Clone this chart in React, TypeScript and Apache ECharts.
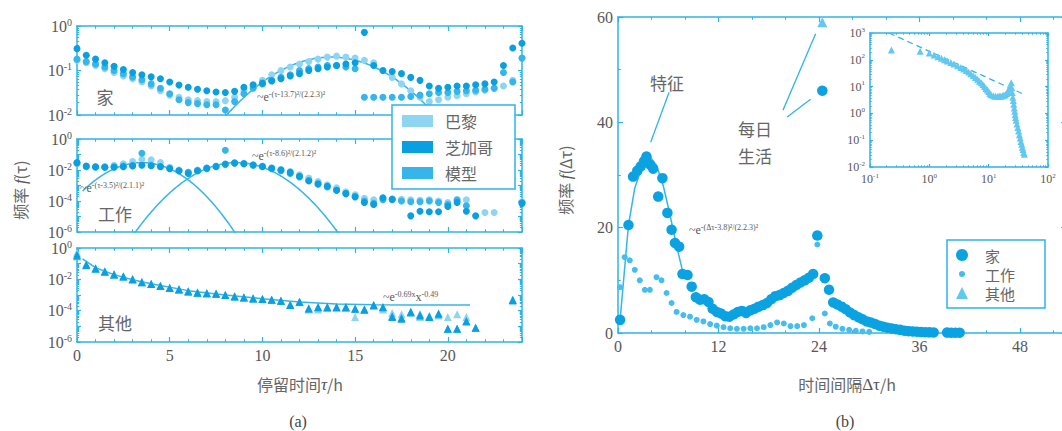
import React, { useEffect, useRef } from "react";
import * as echarts from "echarts";

// ---------- data ----------
// half-hour sampling grid of the dwell-time distributions (0 … 24 h)
const HOURS: number[] = Array.from({ length: 49 }, (_, i) => i * 0.5);

// 家 (home) dwell time
const homeParis = [0.17, 0.15, 0.13, 0.11, 0.09, 0.075, 0.065, 0.055, 0.045, 0.035, 0.028, 0.025, 0.022, 0.021, 0.02, 0.02, 0.021, 0.025, 0.035, 0.045, 0.06, 0.08, 0.1, 0.12, 0.14, 0.16, 0.18, 0.2, 0.21, 0.2, 0.19, 0.17, 0.15, 0.1, 0.07, 0.05, 0.035, 0.025, 0.02, 0.022, 0.025, 0.027, 0.03, 0.033, 0.036, 0.04, 0.045, 0.06, 0.19];
const homeChicago = [0.31, 0.22, 0.18, 0.15, 0.125, 0.105, 0.09, 0.08, 0.072, 0.065, 0.055, 0.047, 0.042, 0.038, 0.035, 0.033, 0.032, 0.034, 0.042, 0.048, 0.052, 0.058, 0.065, 0.075, 0.085, 0.1, 0.11, 0.12, 0.13, 0.14, 0.15, 0.72, 0.13, 0.1, 0.095, 0.085, 0.07, 0.06, 0.045, 0.04, 0.042, 0.045, 0.045, 0.048, 0.05, 0.055, 0.13, 0.32, 0.41];
const homeModel = [0.18, 0.16, 0.14, 0.12, 0.1, 0.085, 0.072, 0.062, 0.05, 0.04, 0.03, 0.022, 0.019, 0.018, 0.017, 0.017, 0.013, 0.02, 0.03, 0.04, 0.05, 0.06, 0.07, 0.08, 0.1, 0.11, 0.12, 0.13, 0.13, 0.12, 0.11, 0.025, 0.025, 0.025, 0.025, 0.025, 0.026, 0.028, 0.03, 0.032, 0.032, 0.034, 0.035, 0.036, 0.038, 0.04, 0.09, 0.055, 0.19];

// 工作 (work) dwell time
const workParis = [0.025, 0.017, 0.016, 0.017, 0.02, 0.025, 0.035, 0.05, 0.045, 0.03, 0.015, 0.01, 0.007, 0.01, 0.014, 0.018, 0.022, 0.03, 0.027, 0.022, 0.018, 0.014, 0.011, 0.008, 0.005, 0.003, 0.0018, 0.0011, 0.0007, 0.0004, 0.00025, 0.00015, 0.00012, 0.00015, 0.00014, 0.00013, 0.00012, 0.00011, 0.00012, 0.0001, 0.00008, 0.00013, 0.00012, null, 0.000018, 0.000018, null, null, 0.00009];
const workChicago = [0.03, 0.018, 0.016, 0.015, 0.015, 0.016, 0.018, 0.02, 0.019, 0.016, 0.012, 0.009, 0.006, 0.009, 0.013, 0.017, 0.024, 0.028, 0.025, 0.021, 0.017, 0.013, 0.01, 0.007, 0.004, 0.002, 0.0013, 0.0009, 0.0005, 0.0003, 0.00018, 0.00008, 0.00006, 0.00016, 0.00013, null, 0.000011, 0.000022, 0.00002, 0.00002, 0.000045, 0.00008, 0.000022, 0.000011, null, null, null, null, 0.00007];
const workModel = [0.028, 0.016, 0.015, 0.015, 0.016, 0.018, 0.02, 0.12, 0.02, 0.017, 0.013, 0.009, 0.007, 0.009, 0.012, 0.016, 0.19, 0.027, 0.025, 0.02, 0.016, 0.012, 0.009, 0.006, 0.0035, 0.002, 0.0012, 0.0008, 0.0005, 0.0003, 0.0002, 0.0001, 0.00007, 0.00012, 0.00012, 0.0001, 0.00009, 0.00009, 0.0001, 0.00008, 0.00006, 0.00011, 0.00005, null, null, null, null, null, 0.00008];

// 其他 (other) dwell time
const otherParis = [0.5, 0.09, 0.052, 0.033, 0.021, 0.016, 0.011, 0.007, 0.0052, 0.004, 0.003, 0.0024, 0.0018, 0.0015, 0.0013, 0.0012, 0.001, 0.00085, 0.00072, 0.00062, 0.00056, 0.0005, 0.00045, 0.00025, 0.00035, 0.00012, 0.00012, 0.00015, 0.00016, 0.00015, 0.00004, 0.00011, 0.0002, 0.00012, 0.00007, 0.00006, 0.00007, 0.00004, 0.00004, 0.00005, 0.00004, 0.00006, 0.00004, null, null, null, null, 0.0004, null];
const otherChicago = [0.37, 0.085, 0.05, 0.032, 0.02, 0.015, 0.01, 0.0065, 0.005, 0.0038, 0.0028, 0.0023, 0.0017, 0.0014, 0.0013, 0.0012, 0.001, 0.0008, 0.0007, 0.0006, 0.00055, 0.0005, 0.00043, 0.00023, 0.00037, 0.00014, 0.00017, 0.00017, 0.00017, 0.00017, 0.00014, 0.00012, 0.00023, 0.00017, 0.00004, 0.00003, 0.000086, 0.00005, 0.00004, 0.000066, 0.000007, 0.000007, 0.00002, 0.000008, null, null, null, 0.00048, null];
const otherModel = [0.3, 0.08, 0.048, 0.031, 0.02, 0.015, 0.0098, 0.0064, 0.005, 0.0037, 0.0028, 0.0022, 0.0017, 0.0014, 0.0013, 0.0012, 0.001, 0.0008, 0.0007, 0.0006, 0.00055, 0.0005, 0.00042, 0.00024, 0.00036, 0.00014, 0.00016, 0.00016, 0.00016, 0.00016, 0.00013, 0.00012, 0.00022, 0.00016, 0.000045, 0.000035, 0.00008, 0.00006, 0.000045, 0.00006, 0.000007, 0.000007, 0.000022, 0.000008, null, null, null, 0.0005, null];

// Gaussian fits quoted on the panels: centre, width, peak height
const HOME_FIT = { mu: 13.7, sigma: 2.3, peak: 0.2, from: 7, to: 19.5 };
const WORK_FIT_A = { mu: 3.5, sigma: 1.1, peak: 0.03, from: 0.3, to: 9 };
const WORK_FIT_B = { mu: 8.6, sigma: 1.2, peak: 0.03, from: 2.5, to: 14.5 };
// power-law-like fit through the 其他 points
const otherFit: [number, number][] = [[0.3, 0.2], [1, 0.055], [2, 0.02], [3, 0.0095], [4, 0.0052], [6, 0.0019], [8, 0.001], [10, 0.00058], [12, 0.00036], [14, 0.00027], [16, 0.00024], [18, 0.00023], [21.2, 0.00023]];

// inter-event time Δτ (h) vs frequency
const homeInterval: [number, number][] = [[0.25, 2.5], [1.25, 20.5], [1.8, 29.7], [2.3, 30.8], [2.7, 31.6], [3.1, 32.6], [3.4, 33.5], [3.8, 32], [4.2, 31.2], [4.8, 25.9], [5.3, 29.4], [5.9, 22.8], [6.4, 19.6], [6.8, 17.1], [7.3, 16.4], [7.7, 11.2], [8.3, 11], [8.8, 8.8], [9.3, 6.8], [9.8, 6.3], [10.3, 6.4], [10.8, 5.9], [11.3, 4.6], [11.8, 4.0], [12.3, 3.7], [12.8, 3.2], [13.3, 3.1], [13.8, 3.5], [14.3, 4.0], [14.8, 4.2], [15.3, 3.8], [15.8, 4.3], [16.3, 4.6], [16.8, 5.0], [17.3, 5.3], [17.8, 5.7], [18.3, 6.4], [18.8, 7.0], [19.3, 7.2], [19.8, 7.6], [20.3, 8.0], [20.8, 8.6], [21.3, 9.1], [21.8, 9.6], [22.3, 10.0], [22.8, 10.5], [23.3, 11.2], [23.8, 18.5], [24.4, 46], [24.7, 10.4], [25.2, 8.2], [25.7, 5.8], [26.2, 5.4], [26.7, 5.0], [27.2, 4.5], [27.7, 3.9], [28.2, 3.4], [28.7, 3.0], [29.2, 2.6], [29.7, 2.2], [30.2, 2.0], [30.7, 1.7], [31.2, 1.4], [31.7, 1.2], [32.2, 1.0], [32.7, 0.85], [33.2, 0.7], [33.7, 0.6], [34.2, 0.45], [34.7, 0.35], [35.2, 0.3], [35.7, 0.25], [36.2, 0.2], [36.7, 0.15], [37.2, 0.12], [37.7, 0.1], [39.3, 0.08], [39.8, 0.06], [40.3, 0.05], [40.8, 0.05]];
const workInterval: [number, number][] = [[0.25, 8.7], [0.8, 14.4], [1.4, 13.8], [2.0, 12], [2.6, 10], [3.2, 8.2], [3.8, 8.2], [4.6, 10.6], [5.2, 10], [5.8, 7.6], [6.4, 5.7], [7.0, 4.0], [7.8, 3.4], [8.6, 3.1], [9.4, 2.5], [10.2, 2.2], [11, 1.7], [11.8, 1.4], [12.6, 1.1], [13.4, 0.9], [14.2, 0.8], [15, 0.8], [15.8, 0.9], [16.6, 0.9], [17.4, 1.1], [18.2, 1.5], [19, 2.0], [19.8, 1.8], [20.6, 1.3], [21.4, 1.3], [22.2, 1.5], [23.2, 2.8], [23.8, 16.8], [24.7, 3.7], [25.3, 1.8], [26, 1.2], [26.8, 0.8], [27.6, 0.6], [28.4, 0.4], [29.2, 0.3], [30, 0.2]];
const otherInterval: [number, number][] = [[24.4, 59]];
// fitted peak around Δτ = 3.8 h
const intervalFit: [number, number][] = [[0.25, 2.5], [1.25, 20.5], [2, 27.5], [3, 32.2], [3.8, 33.5], [4.6, 31.8], [5.4, 28], [6.2, 22.5], [7, 16.5], [7.6, 12.5], [8, 10.5]];

// inset: 其他 on log–log axes and its power-law guide
const otherLogLog: [number, number][] = [[0.23, 230], [0.7, 210], [1.0, 180], [1.2, 150], [1.4, 130], [1.6, 115], [1.8, 100], [2, 90], [2.3, 80], [2.6, 70], [3, 60], [3.4, 52], [3.8, 45], [4.2, 40], [4.6, 35], [5, 30], [5.5, 26], [6, 22], [6.5, 19], [7, 16], [7.5, 14], [8, 12], [8.5, 10], [9, 8.5], [9.5, 7.5], [10, 6.5], [10.5, 5.5], [11, 5], [12, 4.6], [13, 4.4], [14, 4.3], [15, 4.5], [16, 4.4], [17, 4.6], [18, 4.8], [19, 5], [20, 5.5], [21, 6.5], [22, 8], [23, 10], [24, 14], [24.5, 9], [25, 6], [25.5, 4], [26, 3], [26.5, 2.2], [27, 1.6], [27.5, 1.2], [28, 0.9], [28.5, 0.7], [29, 0.55], [30, 0.4], [31, 0.3], [32, 0.22], [33, 0.16], [34, 0.12], [35, 0.09], [36, 0.07], [37, 0.055], [38, 0.045], [39, 0.035], [40, 0.03]];
const powerGuide: [number, number][] = [[0.21, 1000], [41, 4.9]];

// ---------- styling ----------
const AXIS = "#2fb3e7";
const PARIS = "#8ed4f3";
const CHICAGO = "#0a9fe0";
const MODEL = "#35b5ea";
const HOME_C = "#0ba2e2";
const WORK_C = "#45bdee";
const OTHER_C = "#63c8f0";
const TXT = "#575757";
const SERIF = "'Liberation Serif','DejaVu Serif',serif";
const CJK = "'Noto Sans CJK SC','Noto Sans',sans-serif";
// small dot icon: the two leading move-to points pad the bounding box so the dot renders smaller
const SMALL_DOT = "path://M-8,-8M8,8M-4,0A4,4,0,1,1,4,0A4,4,0,1,1,-4,0Z";

const supRich = (size: number) => ({
  b: { fontFamily: SERIF, fontSize: size, color: TXT, lineHeight: size + 2 },
  s: { fontFamily: SERIF, fontSize: Math.round(size * 0.62), color: TXT, verticalAlign: "top", lineHeight: Math.round(size * 0.62) },
});
const decadeLabel = (every: number) => (v: number) => {
  const e = Math.round(Math.log10(v));
  return e % every === 0 ? `{b|10}{s|${e}}` : "";
};

type AxisOpt = {
  grid: number; pos: string; type: "value" | "log"; min: number; max: number;
  interval?: number; split?: number; minor: number; labels: boolean;
  formatter?: any; rich?: any; fontSize?: number; tick?: number; hideMax?: boolean;
};
function axis(o: AxisOpt) {
  const a: any = {
    type: o.type, gridIndex: o.grid, position: o.pos, min: o.min, max: o.max,
    axisLine: { show: true, onZero: false, lineStyle: { color: AXIS, width: 1.5 } },
    axisTick: { show: true, inside: true, length: o.tick ?? 5, lineStyle: { color: AXIS, width: 1.2 } },
    minorTick: { show: o.minor > 0, splitNumber: o.minor || 2, length: (o.tick ?? 5) * 0.55, lineStyle: { color: AXIS, width: 1 } },
    splitLine: { show: false },
    minorSplitLine: { show: false },
    axisLabel: {
      show: o.labels, color: TXT, fontFamily: SERIF, fontSize: o.fontSize ?? 16, margin: 5,
      formatter: o.formatter, rich: o.rich, showMaxLabel: !o.hideMax,
    },
  };
  if (o.type === "log") { a.logBase = 10; a.splitNumber = o.split; } else { a.interval = o.interval; }
  return a;
}

const pts = (vals: (number | null)[]) =>
  HOURS.map((h, i) => (vals[i] == null ? null : [h, vals[i]])).filter((p) => p !== null);

function gaussCurve(f: { mu: number; sigma: number; peak: number; from: number; to: number }) {
  const out: [number, number][] = [];
  for (let x = f.from; x <= f.to + 1e-9; x += 0.05) {
    out.push([x, f.peak * Math.exp(-((x - f.mu) ** 2) / (2 * f.sigma * f.sigma))]);
  }
  return out;
}

function buildOption(): any {
  const g = (left: number, top: number, width: number, height: number) => ({ left, top, width, height, outerBoundsMode: "none", containLabel: false });
  const grid = [
    g(77, 26, 445, 89),
    g(77, 139, 445, 93),
    g(77, 248, 445, 94),
    g(618, 17, 448, 316),
    g(870, 33, 178, 134),
  ];

  const xAxis: any[] = [];
  const yAxis: any[] = [];
  const yRanges = [
    { min: 0.01, max: 1, split: 2, every: 1 },
    { min: 1e-6, max: 1, split: 6, every: 2 },
    { min: 1e-6, max: 1, split: 6, every: 2 },
  ];
  for (let k = 0; k < 3; k++) {
    xAxis.push(axis({ grid: k, pos: "bottom", type: "value", min: 0, max: 24, interval: 5, minor: 5, labels: k === 2, hideMax: true }));
    xAxis.push(axis({ grid: k, pos: "top", type: "value", min: 0, max: 24, interval: 5, minor: 5, labels: false }));
    const r = yRanges[k];
    yAxis.push(axis({ grid: k, pos: "left", type: "log", min: r.min, max: r.max, split: r.split, minor: 10, labels: true, formatter: decadeLabel(r.every), rich: supRich(16), tick: 4 }));
    yAxis.push(axis({ grid: k, pos: "right", type: "log", min: r.min, max: r.max, split: r.split, minor: 10, labels: false, tick: 4 }));
  }
  // main interval panel
  xAxis.push(axis({ grid: 3, pos: "bottom", type: "value", min: 0, max: 53.5, interval: 12, minor: 3, labels: true, hideMax: true }));
  xAxis.push(axis({ grid: 3, pos: "top", type: "value", min: 0, max: 53.5, interval: 12, minor: 3, labels: false }));
  yAxis.push(axis({ grid: 3, pos: "left", type: "value", min: 0, max: 60, interval: 20, minor: 2, labels: true }));
  yAxis.push(axis({ grid: 3, pos: "right", type: "value", min: 0, max: 60, interval: 20, minor: 2, labels: false }));
  // inset
  xAxis.push(axis({ grid: 4, pos: "bottom", type: "log", min: 0.1, max: 100, split: 3, minor: 10, labels: true, formatter: decadeLabel(1), rich: supRich(12), tick: 3 }));
  xAxis.push(axis({ grid: 4, pos: "top", type: "log", min: 0.1, max: 100, split: 3, minor: 10, labels: false, tick: 3 }));
  yAxis.push(axis({ grid: 4, pos: "left", type: "log", min: 0.01, max: 1000, split: 5, minor: 10, labels: true, formatter: decadeLabel(1), rich: supRich(12), tick: 3 }));
  yAxis.push(axis({ grid: 4, pos: "right", type: "log", min: 0.01, max: 1000, split: 5, minor: 10, labels: false, tick: 3 }));

  const scatter = (name: string, gi: number, data: any[], symbol: string, size: number, color: string, z = 3) => ({
    type: "scatter", name, xAxisIndex: gi * 2, yAxisIndex: gi * 2, symbol, symbolSize: size,
    itemStyle: { color, opacity: 1 }, data, z,
  });
  const fitLine = (gi: number, data: any[], dashed = false) => ({
    type: "line", name: "fit", xAxisIndex: gi * 2, yAxisIndex: gi * 2, data, showSymbol: false, symbol: "none",
    lineStyle: { color: MODEL, width: 1.5, type: dashed ? "dashed" : "solid" }, clip: true, z: 2, silent: true,
  });

  const panels = [
    { p: homeParis, c: homeChicago, m: homeModel, sym: "circle", size: 7 },
    { p: workParis, c: workChicago, m: workModel, sym: "circle", size: 7 },
    { p: otherParis, c: otherChicago, m: otherModel, sym: "triangle", size: 8 },
  ];
  const series: any[] = [];
  panels.forEach((pn, k) => {
    series.push(scatter("巴黎", k, pts(pn.p), pn.sym, pn.size, PARIS));
    series.push(scatter("模型", k, pts(pn.m), pn.sym, pn.size, MODEL));
    series.push(scatter("芝加哥", k, pts(pn.c), pn.sym, pn.size, CHICAGO, 4));
  });
  series.push(fitLine(0, gaussCurve(HOME_FIT)));
  series.push(fitLine(1, gaussCurve(WORK_FIT_A)));
  series.push(fitLine(1, gaussCurve(WORK_FIT_B)));
  series.push(fitLine(2, otherFit));

  // interval panel
  series.push(scatter("工作", 3, workInterval, "circle", 6, WORK_C));
  series.push(scatter("家", 3, homeInterval, "circle", 10.5, HOME_C, 4));
  series.push(scatter("其他", 3, otherInterval, "triangle", 10, OTHER_C, 4));
  series.push({
    ...fitLine(3, intervalFit),
    markLine: {
      silent: true, symbol: ["none", "arrow"], symbolSize: [0, 9], animation: false,
      lineStyle: { color: AXIS, width: 1.3, type: "solid" }, label: { show: false },
      data: [
        [{ coord: [6.1, 45.7] }, { coord: [3.9, 36.2] }],
        [{ coord: [19.7, 42.3] }, { coord: [23.6, 56.8] }],
        [{ coord: [20.2, 41.0] }, { coord: [23.0, 44.4] }],
      ],
    },
  });
  series.push(scatter("其他", 4, otherLogLog, "triangle", 7, OTHER_C));
  series.push({ ...fitLine(4, powerGuide, true), lineStyle: { color: MODEL, width: 1.3, type: [6, 4] } });

  const cjkText = (text: string, x: number, y: number, size = 17, rotation = 0, align = "center") => ({
    type: "text", x, y, rotation, silent: true, z: 10,
    style: { text, fill: "#666", fontFamily: CJK, fontSize: size, align, verticalAlign: "middle" },
  });
  const fitText = (x: number, y: number, sup: string) => ({
    type: "text", x, y, silent: true, z: 10,
    style: {
      text: `~e{s|${sup}}`, fill: TXT, fontFamily: SERIF, fontSize: 12, lineHeight: 14, align: "left", verticalAlign: "middle",
      rich: { s: { fontFamily: SERIF, fontSize: 8, lineHeight: 8, fill: TXT, color: TXT, verticalAlign: "top" } },
    },
  });
  const yName = (x: number, y: number, arg: string) => ({
    type: "text", x, y, rotation: Math.PI / 2, silent: true, z: 10,
    style: {
      text: `{c|频率 }{i|f}{c|(${arg})}`, align: "center", verticalAlign: "middle", fill: "#666",
      rich: {
        c: { fontFamily: CJK, fontSize: 16, fill: "#666", color: "#666" },
        i: { fontFamily: SERIF, fontSize: 17, fontStyle: "italic", fill: "#555", color: "#555" },
      },
    },
  });

  const graphic = [
    cjkText("家", 105, 96),
    cjkText("工作", 115, 213),
    cjkText("其他", 115, 322),
    fitText(257, 97, "-(τ-13.7)²/(2.2.3)²"),
    fitText(252, 156, "-(τ-8.6)²/(2.1.2)²"),
    fitText(80, 188, "-(τ-3.5)²/(2.1.1)²"),
    {
      type: "text", x: 383, y: 297, silent: true, z: 10,
      style: {
        text: "~e{s|-0.69x}x{s|-0.49}", fill: TXT, fontFamily: SERIF, fontSize: 12, lineHeight: 14, align: "left", verticalAlign: "middle",
        rich: { s: { fontFamily: SERIF, fontSize: 8, lineHeight: 8, fill: TXT, color: TXT, verticalAlign: "top" } },
      },
    },
    fitText(689, 230, "-(Δτ-3.8)²/(2.2.3)²"),
    cjkText("特征", 667, 82),
    cjkText("每日", 755, 128),
    cjkText("生活", 755, 155),
    yName(20, 190, "τ"),
    yName(565, 180, "Δτ"),
    {
      type: "text", x: 300, y: 384, silent: true, z: 10,
      style: {
        text: "{c|停留时间}{i|τ}{c|/h}", align: "center", verticalAlign: "middle",
        rich: { c: { fontFamily: CJK, fontSize: 16, fill: "#666", color: "#666" }, i: { fontFamily: SERIF, fontSize: 17, fontStyle: "italic", fill: "#555", color: "#555" } },
      },
    },
    {
      type: "text", x: 847, y: 384, silent: true, z: 10,
      style: {
        text: "{c|时间间隔}{i|Δτ}{c|/h}", align: "center", verticalAlign: "middle",
        rich: { c: { fontFamily: CJK, fontSize: 16, fill: "#666", color: "#666" }, i: { fontFamily: SERIF, fontSize: 17, fill: "#555", color: "#555" } },
      },
    },
    { type: "text", x: 298, y: 421, silent: true, style: { text: "(a)", fill: "#444", fontFamily: SERIF, fontSize: 16, align: "center", verticalAlign: "middle" } },
    { type: "text", x: 845, y: 421, silent: true, style: { text: "(b)", fill: "#444", fontFamily: SERIF, fontSize: 16, align: "center", verticalAlign: "middle" } },
  ];

  const legendBase = {
    orient: "vertical", selectedMode: false, backgroundColor: "#fff", borderColor: AXIS, borderWidth: 1.5,
    textStyle: { fontFamily: CJK, fontSize: 16, color: "#666" },
  };

  return {
    animation: false,
    backgroundColor: "#fff",
    grid,
    xAxis,
    yAxis,
    series,
    graphic,
    legend: [
      {
        ...legendBase, data: ["巴黎", "芝加哥", "模型"], icon: "rect", left: 392, top: 105,
        itemWidth: 31, itemHeight: 12, itemGap: 10, padding: [8, 22, 8, 10],
        textStyle: { ...legendBase.textStyle, padding: [0, 0, 0, 7] },
      },
      {
        ...legendBase,
        data: [{ name: "家", icon: "circle" }, { name: "工作", icon: SMALL_DOT }, { name: "其他", icon: "triangle" }],
        left: 947, top: 240, itemWidth: 12, itemHeight: 12, itemGap: 3, padding: [7, 30, 7, 9],
        textStyle: { ...legendBase.textStyle, fontSize: 15, lineHeight: 16, padding: [0, 0, 0, 12] },
      },
    ],
  };
}

export default function App() {
  const ref = useRef<HTMLDivElement>(null);
  useEffect(() => {
    const el = ref.current;
    if (!el) return;
    const chart = echarts.init(el, undefined, { renderer: "svg" });
    chart.setOption(buildOption());
    return () => chart.dispose();
  }, []);
  return (
    <div
      ref={ref}
      style={{ position: "fixed", left: 0, top: 0, width: 1062, height: 431, background: "#fff", overflow: "hidden" }}
    />
  );
}
